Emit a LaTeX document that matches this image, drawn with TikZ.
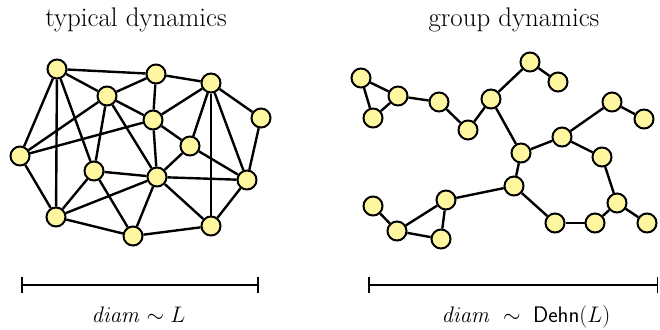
\RequirePackage{fix-cm}
\documentclass[tikz,border=0pt]{standalone}
\usepackage{amsmath}
\begin{document}
\begin{tikzpicture}[x=1pt,y=-1pt,
  vert/.style={circle,draw=black,line width=2pt,fill=nodeyellow,minimum size=19pt,inner sep=0pt},
  edge/.style={line width=2.4pt},
  bar/.style={line width=1.1pt},
  title/.style={font=\fontsize{26.9}{32}\selectfont,anchor=base},
  lab/.style={font=\fontsize{22.5}{27}\selectfont,anchor=base}]
\definecolor{nodeyellow}{RGB}{255,246,160}
\useasboundingbox (0,0) rectangle (660,329);
% titles
\node[title] (t1) at (136,27) {typical dynamics};
\node[title] (t2) at (514,27) {group dynamics};
% left graph
\node[vert] (A) at (57,69) {};
\node[vert] (B) at (156,74) {};
\node[vert] (C) at (211,83) {};
\node[vert] (D) at (107,96) {};
\node[vert] (E) at (153,120) {};
\node[vert] (F) at (261,118) {};
\node[vert] (G) at (20,156) {};
\node[vert] (H) at (190,146) {};
\node[vert] (I) at (94,171) {};
\node[vert] (J) at (157,177) {};
\node[vert] (K) at (247,180) {};
\node[vert] (L) at (56,217) {};
\node[vert] (M) at (133,236) {};
\node[vert] (N) at (211,226) {};
\foreach \u/\v in {A/B,A/D,A/G,A/L,A/I,B/D,B/E,B/C,D/G,D/I,D/J,D/E,C/E,C/H,C/N,C/K,C/F,
  E/H,E/J,E/G,H/J,H/K,F/K,I/J,I/L,I/M,J/L,J/M,J/N,J/K,L/M,M/N,N/K,G/L}
  \draw[edge] (\u) -- (\v);
% right graph
\node[vert] (a1) at (361,78) {};
\node[vert] (a2) at (373,118) {};
\node[vert] (a3) at (398,96) {};
\node[vert] (a4) at (439,102) {};
\node[vert] (a5) at (468,130) {};
\node[vert] (a6) at (491,99) {};
\node[vert] (a7) at (530,62) {};
\node[vert] (a8) at (558,82) {};
\node[vert] (a9) at (521,153) {};
\node[vert] (a10) at (562,137) {};
\node[vert] (a11) at (612,102) {};
\node[vert] (a12) at (644,119) {};
\node[vert] (a13) at (602,157) {};
\node[vert] (a14) at (514,186) {};
\node[vert] (a15) at (446,200) {};
\node[vert] (a16) at (373,206) {};
\node[vert] (a17) at (397,231) {};
\node[vert] (a18) at (441,239) {};
\node[vert] (a19) at (555,223) {};
\node[vert] (a20) at (595,223) {};
\node[vert] (a21) at (617,203) {};
\node[vert] (a22) at (647,223) {};
\foreach \u/\v in {a1/a3,a1/a2,a2/a3,a3/a4,a4/a5,a5/a6,a6/a7,a7/a8,a6/a9,a9/a10,a10/a11,
  a11/a12,a10/a13,a9/a14,a14/a15,a15/a17,a15/a18,a17/a18,a16/a17,a14/a19,a19/a20,a20/a21,
  a21/a22,a21/a13}
  \draw[edge] (\u) -- (\v);
% scale bars
\coordinate (l1) at (22,285);
\coordinate (l2) at (258,285);
\coordinate (r1) at (369,285);
\coordinate (r2) at (657.5,285);
\draw[bar] (l1) -- (l2);
\draw[bar] ([yshift=-8pt]l1) -- ([yshift=8pt]l1);
\draw[bar] ([yshift=-8pt]l2) -- ([yshift=8pt]l2);
\draw[bar] (r1) -- (r2);
\draw[bar] ([yshift=-8pt]r1) -- ([yshift=8pt]r1);
\draw[bar] ([yshift=-8pt]r2) -- ([yshift=8pt]r2);
\node[lab] (d1) at (138.5,322) {$\mathit{diam}\sim L$};
\node[lab] (d2) at (526,322) {$\mathit{diam}\mkern5mu\sim\mkern5mu\mathsf{Dehn}(L)$};
\end{tikzpicture}
\end{document}
